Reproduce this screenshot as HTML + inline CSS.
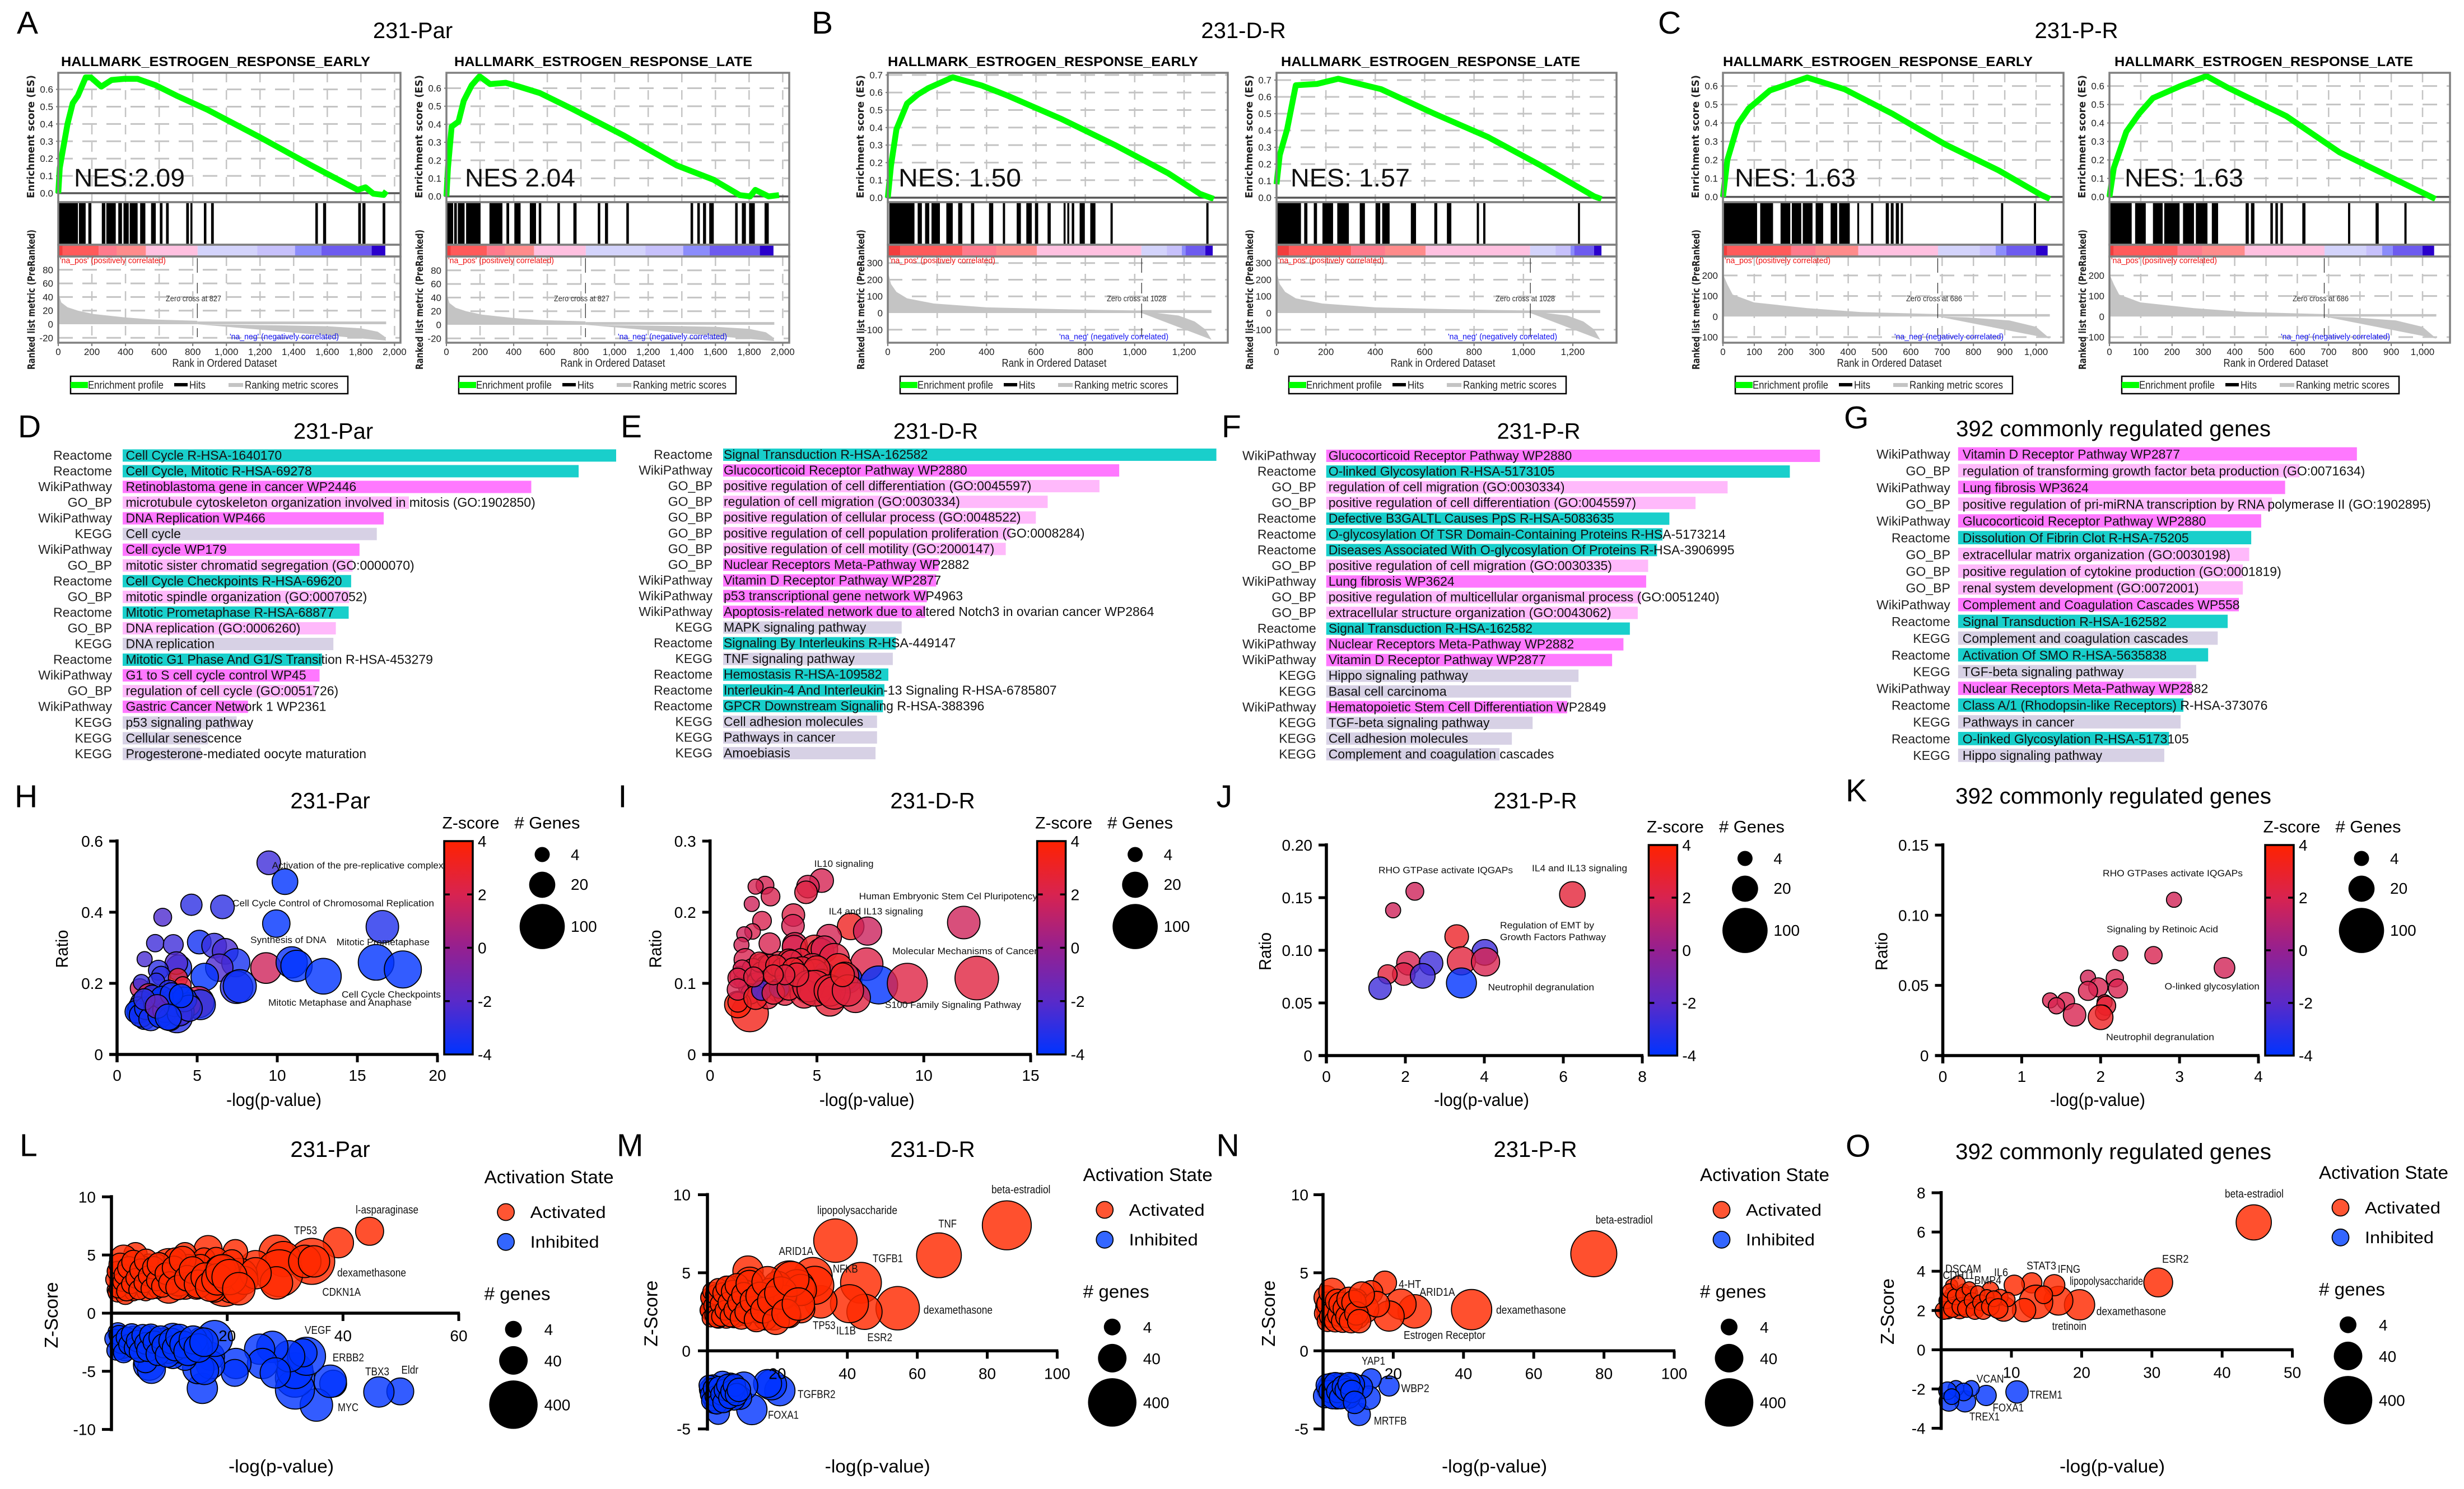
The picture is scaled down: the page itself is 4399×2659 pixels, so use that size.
<!DOCTYPE html>
<html lang="en">
<head>
<meta charset="utf-8">
<title>Estrogen response enrichment figure</title>
<style>
html,body{margin:0;padding:0;background:#fff;}
svg{display:block;font-family:"Liberation Sans",sans-serif;}
</style>
</head>
<body>
<svg id="figure" xmlns="http://www.w3.org/2000/svg" width="4399" height="2659" viewBox="0 0 4399 2659">
<defs>
<linearGradient id="zscore-gradient" x1="0" y1="0" x2="0" y2="1">
<stop offset="0" stop-color="#ff2200"/>
<stop offset="0.25" stop-color="#d82350"/>
<stop offset="0.5" stop-color="#952090"/>
<stop offset="0.75" stop-color="#5a2ac8"/>
<stop offset="1" stop-color="#0033ff"/>
</linearGradient>
</defs>
<rect width="4399" height="2659" fill="#fff"/>
</svg>
<script>
/* ---------- GSEA data ---------- */
const a1EsRank=[0,9,25,55,86,117,163,194,256,317,394,471,579,703,888,1196,1504,1781,1827,1874,1935,1951];
const a1EsScore=[0,.146,.236,.40,.52,.564,.669,.669,.616,.654,.661,.661,.624,.564,.482,.325,.161,.019,.034,-.003,-.01,.012];
const a2EsRank=[0,9,31,72,103,150,197,259,353,431,556,744,1056,1369,1587,1744,1806,1837,1916,1978];
const a2EsScore=[0,.157,.387,.415,.53,.616,.666,.623,.63,.609,.573,.487,.337,.172,.093,.007,0,.036,0,.007];
const b1EsRank=[0,13,35,78,121,164,263,380,487,703,919,1135,1264,1320];
const b1EsScore=[0,.184,.39,.537,.588,.625,.687,.64,.581,.449,.301,.14,.022,-.007];
const b2EsRank=[0,13,43,78,164,250,423,639,855,1070,1286,1316];
const b2EsScore=[.08,.254,.408,.669,.677,.708,.646,.5,.362,.192,.008,-.008];
const c1EsRank=[0,14,48,82,116,150,269,388,541,711,881,1017,1044];
const c1EsScore=[0,.199,.394,.478,.527,.576,.646,.583,.45,.283,.143,.01,-.011];
const c2EsRank=[0,14,54,95,139,224,310,378,565,735,905,1041];
const c2EsScore=[0,.157,.353,.451,.535,.598,.654,.591,.437,.241,.101,-.011];

const a1Hits=[[0,117],[123,163],[179,197],[259,280],[286,342],[357,379],[388,419],[425,472],[487,518],[552,580],[604,620],[641,657],[761,777],[786,798],[866,881],[909,925],[1529,1544],[1575,1593],[1784,1800],[1809,1827],[1929,1945]];
const a2Hits=[[0,40],[46,62],[68,108],[117,203],[256,333],[357,373],[404,441],[496,533],[549,564],[660,675],[755,774],[900,915],[943,961],[1070,1085],[1452,1467],[1492,1507],[1526,1544],[1563,1590],[1717,1732],[1757,1781],[1800,1834],[1892,1917]];
const b1Hits=[[6,108],[121,138],[151,168],[177,211],[237,263],[285,302],[337,350],[410,427],[466,475],[522,539],[561,583],[596,609],[647,660],[712,720],[727,735],[745,755],[777,798],[820,841],[902,911],[1290,1299]];
const b2Hits=[[4,99],[112,125],[151,164],[186,229],[246,293],[337,358],[401,420],[428,458],[544,565],[639,651],[690,708],[811,820],[837,846],[1221,1229]];
const c1Hits=[[3,109],[119,160],[184,215],[220,250],[255,286],[296,320],[344,365],[371,405],[429,435],[473,480],[520,530],[536,545],[552,562],[568,575],[888,895],[993,1000]];
const c2Hits=[[3,71],[82,116],[139,170],[175,224],[235,270],[276,313],[327,347],[435,445],[452,463],[514,522],[530,538],[546,554],[616,626],[762,769],[850,860],[942,949]];

const bandColors=["#f23d3d","#ff5a5a","#ff7a8c","#ff8b8b","#ffc0e0","#d3d3fb","#c6c0fb","#8b8cfb","#6d5bef","#2a00cc"];
const aBandEdges=[0,25,240,348,521,829,1183,1408,1565,1864,1945];
const bBandEdges=[0,50,302,440,604,1027,1130,1191,1206,1286,1316];
const cBandEdges=[0,14,218,296,432,687,820,871,905,1000,1037];

const aPosRank=[0,3,6,18,55,117,210,400,560,827];
const aPosMetric=[80,62,42,32,25,20,15,10,7,5];
const aNegRank=[827,1000,1300,1600,1800,1900,1940,1950];
const aNegMetric=[0,-.5,-1.5,-3,-6,-11,-18,-24];
const aPlateau=[4];
const bPosRank=[0,13,35,78,186,401,703,1028];
const bPosMetric=[250,174,127,88,57,34,23,15];
const bNegRank=[1028,1091,1178,1243,1286,1311];
const bNegMetric=[0,0,-15,-51,-98,-160];
const bPlateau=[18];
const cPosRank=[0,14,31,99,269,439,686];
const cPosMetric=[207,157,107,69,41,22,12];
const cNegRank=[686,779,915,1000,1044];
const cNegMetric=[0,-4,-19,-50,-107];
const cPlateau=[12];

const aRankTicks=[0,200,400,600,800,1000,1200,1400,1600,1800,2000];
const bRankTicks=[0,200,400,600,800,1000,1200];
const cRankTicks=[0,100,200,300,400,500,600,700,800,900,1000];
const aMetricTicks=[-20,0,20,40,60,80];
const bMetricTicks=[-100,0,100,200,300];
const cMetricTicks=[-100,0,100,200];
const es6Ticks=[0,.1,.2,.3,.4,.5,.6];
const es7Ticks=[0,.1,.2,.3,.4,.5,.6,.7];

/* ---------- enrichment bar data ---------- */
const dSources=["Reactome","Reactome","WikiPathway","GO_BP","WikiPathway","KEGG","WikiPathway","GO_BP","Reactome","GO_BP","Reactome","GO_BP","KEGG","Reactome","WikiPathway","GO_BP","WikiPathway","KEGG","KEGG","KEGG"];
const dTerms=["Cell Cycle R-HSA-1640170","Cell Cycle, Mitotic R-HSA-69278","Retinoblastoma gene in cancer WP2446","microtubule cytoskeleton organization involved in mitosis (GO:1902850)","DNA Replication WP466","Cell cycle","Cell cycle WP179","mitotic sister chromatid segregation (GO:0000070)","Cell Cycle Checkpoints R-HSA-69620","mitotic spindle organization (GO:0007052)","Mitotic Prometaphase R-HSA-68877","DNA replication (GO:0006260)","DNA replication","Mitotic G1 Phase And G1/S Transition R-HSA-453279","G1 to S cell cycle control WP45","regulation of cell cycle (GO:0051726)","Gastric Cancer Network 1 WP2361","p53 signaling pathway","Cellular senescence","Progesterone-mediated oocyte maturation"];
const dScores=[100,92.4,82.8,58.0,52.9,51.5,48.0,46.6,46.3,45.9,45.8,43.2,42.7,40.4,39.9,39.1,25.4,23.1,17.3,15.8];

const eSources=["Reactome","WikiPathway","GO_BP","GO_BP","GO_BP","GO_BP","GO_BP","GO_BP","WikiPathway","WikiPathway","WikiPathway","KEGG","Reactome","KEGG","Reactome","Reactome","Reactome","KEGG","KEGG","KEGG"];
const eFillSources=["Reactome","WikiPathway","GO_BP","GO_BP","GO_BP","GO_BP","GO_BP","WikiPathway","WikiPathway","WikiPathway","WikiPathway","KEGG","Reactome","KEGG","Reactome","Reactome","Reactome","KEGG","KEGG","KEGG"];
const eTerms=["Signal Transduction R-HSA-162582","Glucocorticoid Receptor Pathway WP2880","positive regulation of cell differentiation (GO:0045597)","regulation of cell migration (GO:0030334)","positive regulation of cellular process (GO:0048522)","positive regulation of cell population proliferation (GO:0008284)","positive regulation of cell motility (GO:2000147)","Nuclear Receptors Meta-Pathway WP2882","Vitamin D Receptor Pathway WP2877","p53 transcriptional gene network WP4963","Apoptosis-related network due to altered Notch3 in ovarian cancer WP2864","MAPK signaling pathway","Signaling By Interleukins R-HSA-449147","TNF signaling pathway","Hemostasis R-HSA-109582","Interleukin-4 And Interleukin-13 Signaling R-HSA-6785807","GPCR Downstream Signaling R-HSA-388396","Cell adhesion molecules","Pathways in cancer","Amoebiasis"];
const eScores=[100,80.3,76.3,65.8,63.4,58.3,57.3,43.7,43.2,41.3,41.0,36.2,35.0,34.4,33.5,32.7,32.4,31.2,31.2,30.9];

const fSources=["WikiPathway","Reactome","GO_BP","GO_BP","Reactome","Reactome","Reactome","GO_BP","WikiPathway","GO_BP","GO_BP","Reactome","WikiPathway","WikiPathway","KEGG","KEGG","WikiPathway","KEGG","KEGG","KEGG"];
const fTerms=["Glucocorticoid Receptor Pathway WP2880","O-linked Glycosylation R-HSA-5173105","regulation of cell migration (GO:0030334)","positive regulation of cell differentiation (GO:0045597)","Defective B3GALTL Causes PpS R-HSA-5083635","O-glycosylation Of TSR Domain-Containing Proteins R-HSA-5173214","Diseases Associated With O-glycosylation Of Proteins R-HSA-3906995","positive regulation of cell migration (GO:0030335)","Lung fibrosis WP3624","positive regulation of multicellular organismal process (GO:0051240)","extracellular structure organization (GO:0043062)","Signal Transduction R-HSA-162582","Nuclear Receptors Meta-Pathway WP2882","Vitamin D Receptor Pathway WP2877","Hippo signaling pathway","Basal cell carcinoma","Hematopoietic Stem Cell Differentiation WP2849","TGF-beta signaling pathway","Cell adhesion molecules","Complement and coagulation cascades"];
const fScores=[100,93.9,81.3,74.8,69.5,68.1,67.0,65.2,64.8,63.8,63.1,61.5,60.2,57.9,51.1,49.6,48.8,41.8,37.6,35.1];

const gSources=["WikiPathway","GO_BP","WikiPathway","GO_BP","WikiPathway","Reactome","GO_BP","GO_BP","GO_BP","WikiPathway","Reactome","KEGG","Reactome","KEGG","WikiPathway","Reactome","KEGG","Reactome","KEGG"];
const gTerms=["Vitamin D Receptor Pathway WP2877","regulation of transforming growth factor beta production (GO:0071634)","Lung fibrosis WP3624","positive regulation of pri-miRNA transcription by RNA polymerase II (GO:1902895)","Glucocorticoid Receptor Pathway WP2880","Dissolution Of Fibrin Clot R-HSA-75205","extracellular matrix organization (GO:0030198)","positive regulation of cytokine production (GO:0001819)","renal system development (GO:0072001)","Complement and Coagulation Cascades WP558","Signal Transduction R-HSA-162582","Complement and coagulation cascades","Activation Of SMO R-HSA-5635838","TGF-beta signaling pathway","Nuclear Receptors Meta-Pathway WP2882","Class A/1 (Rhodopsin-like Receptors) R-HSA-373076","Pathways in cancer","O-linked Glycosylation R-HSA-5173105","Hippo signaling pathway"];
const gScores=[100,85.6,82.0,78.7,76.0,73.5,73.0,71.4,71.4,70.4,67.6,65.1,62.7,59.7,58.6,56.5,55.8,52.9,51.7];

/* ---------- ratio bubble data ---------- */
const hLogP=[9.47,10.48,4.64,6.58,2.85,9.94,16.56,2.38,3.51,5.13,6.06,6.75,1.72,7.41,6.38,5.47,7.46,7.66,9.3,10.9,11.2,12.88,16.17,17.84,3.85,3.7,2.58,2.75,3.8,4.1,1.42,2.45,1.52,2.0,1.57,5.08,5.2,4.47,3.73,3.24,2.5,3.5,3,3.98,2.75,1.72,1.35,1.33,1.2,1.5,1.8,2.1,2.4,2.7,3,3.3,3.6,3.9,4.2,4.5,2.2,2.8,3.4,4,1.7,2.5,3.2];
const hRatio=[.539,.486,.421,.415,.386,.368,.359,.313,.309,.316,.306,.29,.268,.258,.244,.218,.189,.192,.243,.259,.249,.22,.259,.239,.244,.257,.237,.221,.215,.195,.186,.205,.202,.166,.144,.147,.14,.14,.105,.179,.147,.153,.134,.121,.108,.102,.121,.134,.12,.11,.13,.10,.14,.11,.125,.10,.14,.115,.155,.13,.165,.16,.17,.165,.155,.135,.105];
const hGenes=[15,19,11,15,6.5,23,38,6,9,15,17,19,4,25,23,23,38,40,32,34,34,50,50,56,19,13,9,8,8,5.5,8,5.5,5,15,15,34,30,15,34,11,15,13,15,21,11,13,15,9,13,15,13,15,15,17,17,15,15,17,17,20,11,13,13,15,11,15,20];
const hZ=[-2.6,-4,-3,-3,-2.3,-4,-3.3,-2.6,-2.6,-3.6,-2.8,-2.4,-2.4,-3.5,-2.3,-4,-3,-3.7,1.7,-3.8,-4,-4,-4,-4,-3.5,-2.2,-3,-3,2.8,2.5,1.7,-3,-2.8,2,-3,2,-3.5,1.8,-3.2,-3,-3.7,-3.5,-2,-2.5,-3.8,-3.6,-4,-3.4,-4,-3.6,-3.8,-3.5,-2.8,-3.8,-2,-3.6,-3.8,-2.6,-4,-3,-3.5,-4,-3.6,-4,-3,-1.5,-3.8];

const iLogP=[5.22,4.58,4.49,2.57,2.13,2.83,1.95,2.43,3.9,3.88,6.58,7.37,11.87,1.99,1.6,1.47,2.79,5.57,3.97,3.93,4.89,5.17,5.35,5.81,7.33,1.65,2.41,2.68,3.24,3.69,4.25,4.8,5.35,6,6.45,7.89,9.23,12.48,1.86,1.4,1.6,1.8,2.0,2.2,2.4,2.6,2.8,3.0,3.2,3.4,3.6,3.8,4.0,4.3,4.6,4.9,5.2,1.5,1.9,2.3,2.7,3.1,3.5,3.9,4.4,5.0,5.6,6.3,6.8,1.3,1.3,1.3,1.3,2.13,2.41,3.24,2.96,3.69,4.6,4.9,5.6,5.8,6.45,6.2,4.06,3.5,2.96,2.04];
const iRatio=[.2445,.236,.228,.238,.236,.222,.2116,.188,.196,.181,.18,.1735,.1855,.173,.169,.154,.156,.1655,.154,.151,.148,.1445,.148,.135,.127,.133,.128,.1235,.128,.1316,.135,.122,.1155,.122,.106,.0977,.1,.1074,.058,.11,.105,.095,.12,.10,.115,.095,.125,.105,.09,.12,.10,.13,.105,.12,.09,.115,.10,.12,.085,.13,.08,.125,.085,.12,.085,.12,.075,.11,.08,.0703,.0735,.1074,.0913,.08,.09,.093,.0865,.093,.096,.093,.09,.0865,.09,.112,.112,.112,.112,.109];
const iGenes=[15,13,13,6.5,4,7.5,4,7.5,13,13,21,25,38,4.4,4,4,11,17,17,15,25,21,21,30,38,13,9,15,15,15,9,25,9,25,25,60,70,90,56,9,9,9,11,11,11,11,13,13,13,13,15,15,17,17,21,21,25,7,9,9,13,11,13,13,25,21,30,25,30,21,9,9,11,15,9,9,13,15,34,50,34,38,34,15,15,9,9,9];
const iZ=[1.9,1.9,2.3,1.9,1.9,2,1.7,2,2.2,1.9,3.2,1.6,1.7,2,1.7,1.8,2,1.9,2,2,2.8,2.8,1.9,2.3,2.2,2,1.8,2.4,2.4,2.7,2.5,2.3,-4,3,-4,-4,2.3,2.4,3.4,2.2,2.6,2,2.4,2.8,2.3,2.6,2.4,2.8,2.5,2.7,2.6,2.3,2.8,2.6,2.4,2.7,2.5,2,2.4,2.6,2.5,2.7,2.4,2.9,2.5,2.8,2.6,2.9,2.4,3.8,3.3,2.2,2,3,-2.5,-4,2.5,2.6,2.4,2.6,2.7,2.6,2.4,3,2.6,2.4,2.6,2.3];

const jLogP=[6.23,2.24,1.69,3.3,4.01,3.42,4.03,2.08,2.65,1.96,2.44,1.55,1.36,3.42];
const jRatio=[.153,.156,.138,.113,.098,.09,.089,.0877,.0877,.0774,.0757,.0772,.064,.069];
const jGenes=[19,6.5,4,15,19,25,25,15,15,13,17,8,13,30];
const jZ=[2.6,1.7,1.7,3,-2.6,2.5,2,2,-2.6,2.2,-2.6,2.5,-2.6,-4];

const kLogP=[2.93,2.25,2.67,3.57,1.84,2.18,1.97,1.84,2.22,1.36,1.56,1.44,1.67,2.05,2.07,2.03,2];
const kRatio=[.111,.0728,.0715,.0625,.0555,.0551,.0486,.0461,.0478,.0393,.0388,.0355,.029,.038,.0355,.0306,.0273];
const kGenes=[4,4,6,10,4,6,8,8,8,4,6,5,13,4,8,4,17];
const kZ=[1.8,2,2,1.8,1.8,2,2,2,2,2,2,2,2,2.4,2.6,2.6,3.1];

/* ---------- upstream regulator data ---------- */
const lUpLogP=[44.6,39.2,34.6,28.5,24.9,29.7,29,28.5,33.4,35,21.4,16.7,12.7,4.15,2.1,2.1,9.9,22.2,19.5,20.8,17.4,15.4,12.7,9.9,13.3,16,18.1,20.8,6.5,7.9,5.2,3.8,1.8,1.1,1.4,2.1,2.8,4.5,5.9,7.2,8.6,10.6,9.3,7.9,6.5,5.5,4.5,3.1,1.4,1.1,11,15.4,18.8,22.9,24.9,11.6,14.7,17.8,1.1,.7,1.1,2.4,3.8,5.9,7.9,.6,.9,1.2,1.5,1.9,2.2,2.6,3,3.4,3.8,4.2,4.7,5.1,5.6,6,6.4,6.9,7.3,7.8,8.2,8.8,9.4,10.1,10.8,11.5,12.3,13.1,14,15,16.2,17.1,18.3,19.2,20.4,22];
const lUpZ=[7.04,6.06,4.45,5.22,4.04,4.65,3.43,2.6,4.45,4.45,5.27,5.47,5.06,5.06,4.65,2.8,4.04,3.2,2.6,2.4,3.4,2.8,2.4,2.2,4.04,4.65,4.65,4.45,3.63,3.43,2.8,2.6,2.41,2.41,2.61,2,2.2,2.41,2.41,2.61,2.82,3.02,3.63,4.24,4.24,4.04,3.63,3.43,3.43,3.02,4.65,4.04,3.63,2.82,3.43,2.82,2.2,2,3.63,2,1.8,1.59,1.8,1.8,2,2.9,3.6,2.1,4.2,2.7,3.3,1.9,3.9,2.5,4.4,3,2,3.7,2.6,4.5,3.2,2.1,3.9,2.8,4.2,2.3,3.4,2.6,3.9,2.2,4.6,3,3.7,2.5,3.1,2.3,2.9,3.6,3.1,2.1];
const lUpGenes=[37,52,320,94,60,100,350,70,70,60,21,37,17,17,37,17,100,100,350,100,37,37,37,60,17,14,17,17,17,14,17,14,8,4.5,4,8,8,8,8,11,14,17,14,8,8,8,8,8,4.5,4.5,14,17,60,37,60,60,17,21,8,4,8,8,4.5,4.5,4.5,6,7,6,14,7,9,8,14,7,17,8,8,14,8,17,9,10,14,9,17,12,12,14,17,20,30,25,30,37,40,50,60,80,100,70];
const lDownLogP=[49.9,46.2,38.3,35.4,37.8,31.7,31.7,31.7,33.7,33.1,30.7,27.8,25.6,26.1,28.3,21.5,21.3,15.7,17.1,17.1,15,16.1,17.8,15.4,6.5,6.9,5.9,12.7,10.6,12,14.7,10.6,8.6,6.5,5.2,3.8,2.4,1.4,1.8,1.1,2.4,4.5,7.9,9.9,13.3,1.8,.5,.9,1.3,1.7,2.1,2.6,3,3.5,4,4.4,4.9,5.4,5.9,6.3,6.8,7.4,8,8.5,9.1,9.7,10.4,11,11.7,12.4,13.2,14.1,15,16];
const lDownZ=[-6.73,-6.78,-6.06,-7.9,-5.86,-5.55,-6.57,-4.94,-3.71,-3.41,-3.71,-2.9,-3.1,-4.33,-5.14,-4.33,-5.14,-6.47,-3.71,-4.43,-4.73,-4.94,-2.18,-2.29,-4.43,-4.84,-4.12,-3.92,-3.71,-3.1,-2.9,-2.08,-2.29,-2.08,-2.29,-2.08,-2.29,-2.69,-2.08,-1.67,-3.1,-2.9,-2.9,-3.31,-3.51,-2.9,-2.2,-3.2,-1.9,-2.6,-3.4,-2.1,-2.7,-1.8,-3.0,-2.4,-3.3,-1.9,-2.6,-3.2,-1.9,-2.5,-3.5,-2.1,-2.8,-3.6,-2.4,-3,-2.1,-2.7,-3.3,-2.3,-3,-2.5];
const lDownGenes=[31,52,31,70,70,158,158,110,140,37,60,60,52,52,52,52,31,52,37,40,60,37,110,21,60,37,17,17,21,37,17,37,17,17,17,14,14,8,17,8,17,14,17,17,17,17,7,8,8,9,9,10,9,10,10,11,11,12,12,14,14,14,17,17,20,21,25,25,30,30,37,37,40,40];

const mUpLogP=[85.6,66.2,36.6,43.9,54.4,44.9,40.6,32.4,30.1,30.7,23.4,26.7,11.6,12.1,21.1,18.9,23.4,25.6,20,13.3,9.9,15.5,17.8,13.3,9.9,6.5,4.3,3.1,2,.9,2,7.6,5.4,3.1,.9,12.1,16.6,26.7,22.2,8.8,6.5,4.3,14.4,.9,.4,.7,1,1.3,1.6,1.9,2.3,2.7,3.1,3.6,4,4.5,5,5.5,6,6.6,7.2,7.8,8.4,9,9.7,10.4,11.2,12,13,14,15,16,17.2,18.4,19.6,21,22.5,24,26];
const mUpZ=[8.04,6.12,7.06,4.36,2.73,2.5,3.02,3.14,4.73,4.2,4.51,2.69,5.11,4.36,2.84,2.23,2.23,4.05,4.2,2.08,2.53,2.99,3.9,3.75,3.6,3.9,3.44,2.99,2.53,2.53,3.29,2.23,2.08,2.08,3.44,2.99,2.08,3.9,3.44,3.14,2.84,2.69,2.69,2.99,2.6,3.4,2.1,3.8,2.9,2.3,3.6,2.1,4,3,2.2,3.7,2.6,4.1,3.1,2.2,3.8,2.6,4.2,3.1,2.1,3.6,2.5,4.3,3.2,2,3.5,2.6,4.4,3.2,1.9,3.7,2.4,4.6,3];
const mUpGenes=[420,284,250,190,250,100,140,70,158,140,158,37,52,60,52,37,17,110,37,17,37,37,17,17,60,37,17,17,14,8,8,17,8,8,8,17,17,60,17,17,17,14,37,4.5,5,6,5,6,6,6,8,7,8,8,8,10,8,12,10,10,14,12,17,14,14,20,17,30,25,20,37,25,60,40,30,70,40,100,70];
const mDownLogP=[20.7,18.3,17.2,12.7,10.4,3.1,9.3,6.5,4.3,7.6,6,3.1,1.5,1.5,.9,2,7.6,4.8,.4,.8,1.2,1.7,2.2,2.7,3.3,3.9,4.5,5,5.7,6.3,7,7.7,8.3,9];
const mDownZ=[-2.55,-2.17,-2.09,-3.76,-2.25,-3.99,-3,-2.17,-2.02,-2.32,-2.78,-2.93,-2.17,-3.08,-2.47,-3.38,-3.08,-3.23,-2.2,-2.8,-3.2,-2.4,-2.9,-3.4,-2.3,-2.8,-3.3,-2.5,-2.2,-3,-2.6,-2.2,-2.8,-2.5];
const mDownGenes=[52,52,37,52,37,14,17,17,14,17,17,14,8,8,14,8,14,14,8,8,9,9,9,9,10,10,10,12,12,12,14,14,14,17];

const nUpLogP=[77.1,42.3,17.6,13.7,26.1,22.2,18.8,9.6,11.9,2.7,1.6,5,7.3,9.6,3.9,8.5,15.3,.5,.9,1.3,1.7,2.1,2.6,3,3.5,4,4.5,5,5.6,6.2,6.8,7.4,8,8.8,9.5,10.3,11];
const nUpZ=[6.22,2.64,4.36,3.75,2.53,2.99,2.23,3.29,2.69,2.84,2.23,2.38,2.23,2.23,2.69,2.69,2.99,2.4,3.4,1.9,3,2.2,3.8,2.5,1.9,3.2,2.3,3,1.9,2.7,2.2,3.3,1.9,3.1,2.4,1.9,3.6];
const nUpGenes=[320,180,17,17,80,52,52,11,37,80,17,37,17,25,11,17,25,10,20,10,20,12,30,14,12,17,14,17,14,17,14,20,17,20,17,17,25];
const nDownLogP=[10.3,18.8,13.7,13,6.2,2.7,10.8,5,8.5,1.6,7.3,3.9,.6,1.2,2,2.8,3.5,4.2,5,5.8,6.6,7.4,8.2,9];
const nDownZ=[-4.07,-2.25,-1.79,-3,-2.78,-2.32,-2.32,-2.17,-2.17,-2.47,-2.93,-3.08,-2.9,-2.2,-2.6,-3,-2.1,-2.6,-3,-2.3,-2.5,-2.1,-2.6,-3.3];
const nDownGenes=[14,9,9,17,37,37,17,17,17,17,17,9,17,14,14,14,14,14,14,14,14,14,14,14];

const oUpLogP=[44.5,30.9,19.7,16.7,16.1,12.9,10.4,13.5,11.8,8.9,14.6,7,1.5,3.2,4.3,1.5,.9,2.6,4.9,.9,8.4,9.5,6.6,3.2,.4,.8,1.2,1.6,2,2.4,2.8,3.2,3.6,4,4.4,4.8,5.2,5.6,6,6.5,7,7.5,8.1];
const oUpZ=[6.49,3.43,2.29,2.5,3.29,3.41,3.29,2.44,2.02,2.08,2.8,3.04,3.29,3.04,2.92,2.8,2.44,2.08,2.2,2.02,2.68,2.56,2.32,2.56,2,2.5,3,2.1,2.7,3.4,2.2,2.8,2.1,3.1,2.5,2,2.9,2.4,2,2.7,2.2,2.6,2.1];
const oUpGenes=[100,42,52,42,11,9,9,80,17,21,5,4,1,1,1,2,3,8,5,5,3,2,3,3,5,3,2,5,3,2,5,3,5,2,3,5,2,3,5,2,5,3,8];
const oDownLogP=[10.8,6.4,3.4,1.1,4.3,2.1,3.2,.9,1.5];
const oDownZ=[-2.15,-2.33,-2.63,-2.63,-1.97,-1.97,-2.15,-2.09,-2.39];
const oDownGenes=[14,9,11,8,3,3,5,5,3];

const ratioX20=[0,5,10,15,20], ratioX15=[0,5,10,15], ratioX8=[0,2,4,6,8], ratioX4=[0,1,2,3,4];
const hYTicks=[0,.2,.4,.6], iYTicks=[0,.1,.2,.3], jYTicks=[0,.05,.1,.15,.2], kYTicks=[0,.05,.1,.15];
const zScoreTicks=[4,2,0,-2,-4];
const ratioLegendGenes=[4,20,100];
const regLegendGenes=[4,40,400];
const lXTicks=[20,40,60], mXTicks=[20,40,60,80,100], oXTicks=[10,20,30,40,50];
const lYTicks=[10,5,0,-5,-10], mYTicks=[10,5,0,-5], oYTicks=[8,6,4,2,0,-2,-4];

/* ---------- helpers ---------- */
const NS='http://www.w3.org/2000/svg';
const root=document.getElementById('figure');
function make(tag,attrs,parent){
  const e=document.createElementNS(NS,tag);
  for(const k in attrs)e.setAttribute(k,attrs[k]);
  parent.appendChild(e);
  return e;
}
function group(parent,name){
  const g=make('g',{},parent);
  
  
  return g;
}
function mark(parent,tag,attrs,name){
  const e=make(tag,attrs,parent);
  
  
  return e;
}
function label(parent,name,s,x,y,size,o){
  o=o||{};
  const a={x:x,y:y,'font-size':size,'text-anchor':o.anchor||'start',fill:o.fill||'#000'};
  if(o.width){a.textLength=o.width;a.lengthAdjust='spacingAndGlyphs';}
  if(o.weight)a['font-weight']=o.weight;
  if(o.family)a['font-family']=o.family;
  if(o.rot)a.transform='rotate(-90 '+x+' '+y+')';
  const t=make('text',a,parent);
  t.textContent=s;
  
  
  return t;
}
const linear=(d0,d1,r0,r1)=>v=>r0+(v-d0)*(r1-r0)/(d1-d0);
const pts=(xs,ys,fx,fy)=>xs.map((v,i)=>fx(v)+','+fy(ys[i])).join(' ');
const commas=v=>String(v).replace(/\B(?=(\d{3})+$)/g,',');

/* ---------- GSEA panels ---------- */
function drawGsea(c){
  const g=group(root,c.name);
  const L=c.left,R=c.right;
  const fx=linear(0,1,L,L+c.pxPerRank);
  const fes=linear(0,.1,c.esZero,c.esZero-c.esStep);
  const fm=linear(0,1,c.mZero,c.mZero-c.mStep);
  const T=130,E=361,H=437,B=458,Z=612;
  label(g,c.name+'-title',c.title,c.tx,118,24,{weight:'bold',width:c.tw});
  mark(g,'rect',{x:L,y:T,width:R-L,height:Z-T,fill:'#fff'},c.name+'-plot-area');
  c.esTicks.forEach(v=>{
    if(v!==0)mark(g,'line',{x1:L,x2:R,y1:fes(v),y2:fes(v),stroke:'#c4c4c4','stroke-width':3,'stroke-dasharray':'26 17'},c.name+'-es-gridline');
    label(g,c.name+'-es-tick',v.toFixed(1),L-9,fes(v)+6,17,{anchor:'end',fill:'#222'});
    mark(g,'line',{x1:L-4,x2:L,y1:fes(v),y2:fes(v),stroke:'#777','stroke-width':2},c.name+'-es-tick-mark');
  });
  c.xTicks.forEach(v=>{
    mark(g,'line',{x1:fx(v),x2:fx(v),y1:T,y2:E,stroke:'#c4c4c4','stroke-width':2.5,'stroke-dasharray':'17 14'},c.name+'-es-vgrid');
    mark(g,'line',{x1:fx(v),x2:fx(v),y1:B,y2:Z,stroke:'#c4c4c4','stroke-width':2.5,'stroke-dasharray':'17 14'},c.name+'-metric-vgrid');
    mark(g,'line',{x1:fx(v),x2:fx(v),y1:Z,y2:Z+6,stroke:'#777','stroke-width':2},c.name+'-x-tick-mark');
    label(g,c.name+'-x-tick',commas(v),fx(v),634,17,{anchor:'middle',fill:'#222'});
  });
  c.mTicks.forEach(v=>{
    if(v!==0)mark(g,'line',{x1:L,x2:R,y1:fm(v),y2:fm(v),stroke:'#c4c4c4','stroke-width':3,'stroke-dasharray':'26 17'},c.name+'-metric-gridline');
    label(g,c.name+'-metric-tick',String(v),L-9,fm(v)+6,17,{anchor:'end',fill:'#222'});
  });
  /* metric area */
  const endRank=c.negRank[c.negRank.length-1], crossRank=c.negRank[0];
  mark(g,'polygon',{points:pts(c.posRank,c.posMetric,fx,fm)+' '+fx(crossRank)+','+fm(0)+' '+fx(0)+','+fm(0),fill:'#c4c4c4'},c.name+'-metric-positive-area');
  mark(g,'polygon',{points:fx(crossRank)+','+fm(0)+' '+pts(c.negRank,c.negMetric,fx,fm),fill:'#c4c4c4'},c.name+'-metric-negative-area');
  mark(g,'rect',{x:fx(crossRank),y:fm(c.plateau[0]),width:fx(endRank)-fx(crossRank),height:fm(0)-fm(c.plateau[0]),fill:'#c4c4c4'},c.name+'-metric-plateau');
  [[461,487],[505,524],[542,568],[586,602]].forEach(s=>{
    mark(g,'line',{x1:fx(crossRank),x2:fx(crossRank),y1:s[0],y2:s[1],stroke:'#222','stroke-width':1.2},c.name+'-zero-cross-line');
  });
  /* hits */
  c.hits.forEach(h=>{
    mark(g,'rect',{x:fx(h[0]),y:E+1,width:Math.max(fx(h[1])-fx(h[0]),2),height:H-E-2,fill:'#000'},c.name+'-hit');
  });
  /* rank colour band */
  c.bandEdges.slice(0,-1).forEach((e,i)=>{
    mark(g,'rect',{x:fx(e),y:H,width:fx(c.bandEdges[i+1])-fx(e),height:B-H,fill:bandColors[i]},c.name+'-rank-band-segment');
  });
  /* ES curve */
  mark(g,'line',{x1:L,x2:R,y1:c.esZero,y2:c.esZero,stroke:'#555','stroke-width':3.5},c.name+'-es-zero-line');
  mark(g,'polyline',{points:pts(c.esRank,c.esScore,fx,fes),fill:'none',stroke:'#00ff00','stroke-width':10.5,'stroke-linejoin':'round'},c.name+'-enrichment-curve');
  /* frames */
  [[T,E],[E,H],[H,B],[B,Z]].forEach(r=>{
    mark(g,'rect',{x:L,y:r[0],width:R-L,height:r[1]-r[0],fill:'none',stroke:'#808080','stroke-width':3.5},c.name+'-frame');
  });
  label(g,c.name+'-nes-label',c.nes,c.nesX,333,45,{width:c.nesW,fill:'#111'});
  label(g,c.name+'-pos-label',"'na_pos' (positively correlated)",L+3,470,15,{width:189,fill:'#f01010'});
  label(g,c.name+'-neg-label',"'na_neg' (negatively correlated)",L+306,606,15,{width:195,fill:'#1010f0'});
  label(g,c.name+'-zero-cross-label',c.zeroText,L+c.zeroX,538,15,{width:c.zeroW,fill:'#333'});
  label(g,c.name+'-es-axis-title','Enrichment score (ES)',L-43,354,18,{rot:true,weight:'bold',width:220,family:'"DejaVu Sans",sans-serif',fill:'#222'});
  label(g,c.name+'-metric-axis-title','Ranked list metric (PreRanked)',L-42,660,18,{rot:true,weight:'bold',width:250,family:'"DejaVu Sans",sans-serif',fill:'#222'});
  label(g,c.name+'-x-axis-title','Rank in Ordered Dataset',L+297,655,20,{anchor:'middle',width:187,fill:'#222'});
  /* legend */
  const X=L+22,Y=672;
  mark(g,'rect',{x:X,y:Y,width:495,height:31,fill:'#fff',stroke:'#000','stroke-width':2.5},c.name+'-legend-box');
  mark(g,'rect',{x:X,y:Y+10,width:31,height:11,fill:'#00ff00'},c.name+'-legend-profile-swatch');
  label(g,c.name+'-legend-profile','Enrichment profile',X+31,Y+22,19,{width:135,fill:'#222'});
  mark(g,'rect',{x:X+185,y:Y+12,width:24,height:6,fill:'#000'},c.name+'-legend-hits-swatch');
  label(g,c.name+'-legend-hits','Hits',X+212,Y+22,19,{width:29,fill:'#222'});
  mark(g,'rect',{x:X+282,y:Y+12,width:26,height:7,fill:'#c4c4c4'},c.name+'-legend-metric-swatch');
  label(g,c.name+'-legend-metric','Ranking metric scores',X+311,Y+22,19,{width:167,fill:'#222'});
}
const aStyle={pxPerRank:.3002,xTicks:aRankTicks,mTicks:aMetricTicks,mStep:1.215,posRank:aPosRank,posMetric:aPosMetric,negRank:aNegRank,negMetric:aNegMetric,plateau:aPlateau,bandEdges:aBandEdges,esTicks:es6Ticks,zeroText:'Zero cross at 827',zeroW:99,zeroX:192};
const bStyle={pxPerRank:.4408,xTicks:bRankTicks,mTicks:bMetricTicks,mStep:.2977,posRank:bPosRank,posMetric:bPosMetric,negRank:bNegRank,negMetric:bNegMetric,plateau:bPlateau,bandEdges:bBandEdges,esTicks:es7Ticks,zeroText:'Zero cross at 1028',zeroW:106,zeroX:391};
const cStyle={pxPerRank:.559,xTicks:cRankTicks,mTicks:cMetricTicks,mStep:.367,posRank:cPosRank,posMetric:cPosMetric,negRank:cNegRank,negMetric:cNegMetric,plateau:cPlateau,bandEdges:cBandEdges,esTicks:es6Ticks,zeroText:'Zero cross at 686',zeroW:100,zeroX:327};
drawGsea(Object.assign({},aStyle,{name:'panel-a-early',title:'HALLMARK_ESTROGEN_RESPONSE_EARLY',tx:109,tw:552,left:104,right:715,esZero:345,esStep:30.9,mZero:579,esRank:a1EsRank,esScore:a1EsScore,hits:a1Hits,nes:'NES:2.09',nesX:132,nesW:198}));
drawGsea(Object.assign({},aStyle,{name:'panel-a-late',title:'HALLMARK_ESTROGEN_RESPONSE_LATE',tx:811,tw:532,left:797,right:1409,esZero:350.7,esStep:32.2,mZero:580,esRank:a2EsRank,esScore:a2EsScore,hits:a2Hits,nes:'NES 2.04',nesX:830,nesW:197}));
drawGsea(Object.assign({},bStyle,{name:'panel-b-early',title:'HALLMARK_ESTROGEN_RESPONSE_EARLY',tx:1585,tw:554,left:1585,right:2192,esZero:353,esStep:31.3,mZero:559,esRank:b1EsRank,esScore:b1EsScore,hits:b1Hits,nes:'NES: 1.50',nesX:1604,nesW:219}));
drawGsea(Object.assign({},bStyle,{name:'panel-b-late',title:'HALLMARK_ESTROGEN_RESPONSE_LATE',tx:2287,tw:534,left:2279,right:2886,esZero:353,esStep:30,mZero:559,esRank:b2EsRank,esScore:b2EsScore,hits:b2Hits,nes:'NES: 1.57',nesX:2304,nesW:213}));
drawGsea(Object.assign({},cStyle,{name:'panel-c-early',title:'HALLMARK_ESTROGEN_RESPONSE_EARLY',tx:3076,tw:553,left:3076,right:3684,esZero:351.6,esStep:33,mZero:565.3,esRank:c1EsRank,esScore:c1EsScore,hits:c1Hits,nes:'NES: 1.63',nesX:3097,nesW:216}));
drawGsea(Object.assign({},cStyle,{name:'panel-c-late',title:'HALLMARK_ESTROGEN_RESPONSE_LATE',tx:3775,tw:533,left:3766,right:4374,esZero:351.6,esStep:33,mZero:565.3,esRank:c2EsRank,esScore:c2EsScore,hits:c2Hits,nes:'NES: 1.63',nesX:3793,nesW:212}));

/* ---------- bars ---------- */
const sourceFill={Reactome:'#19cfcb',WikiPathway:'#ff78ff',GO_BP:'#ffb9fb',KEGG:'#d7d1e5'};
function drawBars(c){
  const g=group(root,c.name);
  const fx=linear(0,100,c.left,c.left+c.maxW);
  c.sources.forEach((s,i)=>{
    const y=c.top+i*c.pitch;
    const fillKey=(c.fills||c.sources)[i];
    mark(g,'rect',{x:c.left,y:y,width:fx(c.scores[i])-c.left,height:c.barH,fill:sourceFill[fillKey]},c.name+'-bar');
    label(g,c.name+'-source-label',s,c.left-c.gap,y+c.barH-3.5,c.font,{anchor:'end',fill:'#222'});
    label(g,c.name+'-term-label',c.terms[i],c.left+c.pad,y+c.barH-3.5,c.font,{fill:'#111'});
  });
}
drawBars({name:'panel-d',left:219,maxW:881,top:802.4,pitch:28.05,barH:22,gap:19,pad:5.5,font:23,sources:dSources,terms:dTerms,scores:dScores});
drawBars({name:'panel-e',left:1291,maxW:880.6,top:801,pitch:28.05,barH:22,gap:19,pad:1,font:23,sources:eSources,fills:eFillSources,terms:eTerms,scores:eScores});
drawBars({name:'panel-f',left:2367.7,maxW:881.5,top:803,pitch:28.05,barH:22,gap:18,pad:4,font:23,sources:fSources,terms:fTerms,scores:fScores});
drawBars({name:'panel-g',left:3495.8,maxW:712,top:798.7,pitch:29.9,barH:23.8,gap:14,pad:8,font:23,sources:gSources,terms:gTerms,scores:gScores});

/* ---------- ratio bubbles ---------- */
const zStops=[[0,51,255],[90,42,200],[149,32,144],[216,35,80],[255,34,0]];
const zFill=z=>{
  const p=Math.max(0,Math.min(3.999,(z+4)/2));
  const i=Math.floor(p),f=p-i;
  const mix=k=>Math.round(zStops[i][k]+(zStops[i+1][k]-zStops[i][k])*f);
  return 'rgb('+mix(0)+','+mix(1)+','+mix(2)+')';
};
const ratioRadius=n=>13.5*Math.pow(n/4,.34);
function drawRatio(c){
  const g=group(root,c.name);
  const fx=linear(0,c.xMax,c.x0,c.x1), fy=linear(0,c.yMax,c.yBot,c.yTop);
  c.logP.forEach((v,i)=>{
    mark(g,'circle',{cx:fx(v),cy:fy(c.ratio[i]),r:ratioRadius(c.genes[i]),fill:zFill(c.z[i]),'fill-opacity':.8,stroke:'#000','stroke-width':1.8},c.name+'-bubble');
  });
  mark(g,'line',{x1:c.x0,x2:c.x0,y1:c.yTop-3,y2:c.yBot+14,stroke:'#000','stroke-width':5.5},c.name+'-y-axis');
  mark(g,'line',{x1:c.x0-14,x2:c.x1+2,y1:c.yBot,y2:c.yBot,stroke:'#000','stroke-width':5.5},c.name+'-x-axis');
  c.xTicks.forEach(v=>{
    mark(g,'line',{x1:fx(v),x2:fx(v),y1:c.yBot,y2:c.yBot+14,stroke:'#000','stroke-width':5},c.name+'-x-tick-mark');
    label(g,c.name+'-x-tick',String(v),fx(v),c.yBot+47,28,{anchor:'middle'});
  });
  c.yTicks.forEach(v=>{
    mark(g,'line',{x1:c.x0-14,x2:c.x0,y1:fy(v),y2:fy(v),stroke:'#000','stroke-width':5},c.name+'-y-tick-mark');
    label(g,c.name+'-y-tick',c.yFmt(v),c.x0-25,fy(v)+10,28,{anchor:'end'});
  });
  label(g,c.name+'-y-axis-title','Ratio',c.x0-c.ratioOff,(c.yTop+c.yBot)/2+2,31,{rot:true,anchor:'middle',width:68});
  label(g,c.name+'-x-axis-title','-log(p-value)',c.xlabX,1975,32,{anchor:'middle',width:170});
  label(g,c.name+'-title',c.title,c.tX,c.tY,40,{anchor:c.tW?'start':'middle',width:c.tW});
  /* colour scale */
  const cb=c.cbX,cw=51;
  const fz=linear(-4,4,c.yBot,c.yTop);
  mark(g,'rect',{x:cb,y:c.yTop,width:cw,height:c.yBot-c.yTop,fill:'url(#zscore-gradient)',stroke:'#000','stroke-width':3.5},c.name+'-color-scale');
  zScoreTicks.forEach(v=>{
    if(v!==4&&v!==-4){
      mark(g,'line',{x1:cb,x2:cb+10,y1:fz(v),y2:fz(v),stroke:'#000','stroke-width':3.5},c.name+'-color-tick-left');
      mark(g,'line',{x1:cb+cw-10,x2:cb+cw,y1:fz(v),y2:fz(v),stroke:'#000','stroke-width':3.5},c.name+'-color-tick-right');
    }
    label(g,c.name+'-color-tick-label',String(v),cb+60,fz(v)+10,28,{});
  });
  const d=c.legendDy;
  label(g,c.name+'-color-scale-title','Z-score',cb-3.5,1479.6+d,30,{width:102});
  label(g,c.name+'-size-legend-title','# Genes',cb+125.5,1479.6+d,30,{width:117});
  const ys=[1526,1580,1654.6], tys=[1536,1589,1664];
  ratioLegendGenes.forEach((n,i)=>{
    mark(g,'circle',{cx:cb+c.legX,cy:ys[i]+d,r:ratioRadius(n),fill:'#000'},c.name+'-size-legend-bubble');
    label(g,c.name+'-size-legend-label',String(n),cb+c.legX+51,tys[i]+d,28,{});
  });
}
function note(parent,name,s,x0,x1,y,size){
  label(parent,name,s,x0,y,size||17,{width:x1-x0,fill:'#111'});
}
drawRatio({name:'panel-h',title:'231-Par',tX:589.5,tY:1443.5,x0:209,x1:781,yTop:1502,yBot:1883,xMax:20,yMax:.6,xTicks:ratioX20,yTicks:hYTicks,yFmt:v=>v===0?'0':v.toFixed(1),ratioOff:88,xlabX:489,cbX:793,legX:175,legendDy:0,logP:hLogP,ratio:hRatio,genes:hGenes,z:hZ});
drawRatio({name:'panel-i',title:'231-D-R',tX:1665,tY:1443.5,x0:1267.7,x1:1840,yTop:1502,yBot:1883,xMax:15,yMax:.3,xTicks:ratioX15,yTicks:iYTicks,yFmt:v=>v===0?'0':v.toFixed(1),ratioOff:87,xlabX:1547.7,cbX:1851.6,legX:175,legendDy:0,logP:iLogP,ratio:iRatio,genes:iGenes,z:iZ});
drawRatio({name:'panel-j',title:'231-P-R',tX:2741,tY:1443.5,x0:2368,x1:2932,yTop:1509,yBot:1885,xMax:8,yMax:.2,xTicks:ratioX8,yTicks:jYTicks,yFmt:v=>v===0?'0':v.toFixed(2),ratioOff:99,xlabX:2645,cbX:2943.4,legX:172,legendDy:7,logP:jLogP,ratio:jRatio,genes:jGenes,z:jZ});
drawRatio({name:'panel-k',title:'392 commonly regulated genes',tX:3491,tY:1435,tW:564,x0:3468.5,x1:4032,yTop:1509,yBot:1885,xMax:4,yMax:.15,xTicks:ratioX4,yTicks:kYTicks,yFmt:v=>v===0?'0':v.toFixed(2),ratioOff:99,xlabX:3745,cbX:4044,legX:172,legendDy:7,logP:kLogP,ratio:kRatio,genes:kGenes,z:kZ});

const annotations=group(root,'pathway-annotations');
note(annotations,'annotation-prereplicative','Activation of the pre-replicative complex',485.6,791.6,1551);
note(annotations,'annotation-chromosomal-replication','Cell Cycle Control of Chromosomal Replication',415,775,1618.5);
note(annotations,'annotation-synthesis-dna','Synthesis of DNA',447,582.5,1684);
note(annotations,'annotation-prometaphase','Mitotic Prometaphase',600.7,767,1688);
note(annotations,'annotation-checkpoints','Cell Cycle Checkpoints',610,787,1781.6);
note(annotations,'annotation-metaphase','Mitotic Metaphase and Anaphase',479,735,1796);
note(annotations,'annotation-il10','IL10 signaling',1453.7,1559.6,1548);
note(annotations,'annotation-pluripotency','Human Embryonic Stem Cel Pluripotency',1533.7,1852,1606);
note(annotations,'annotation-il4-il13','IL4 and IL13 signaling',1479.6,1648,1633);
note(annotations,'annotation-cancer-mechanisms','Molecular Mechanisms of Cancer',1593,1852,1704);
note(annotations,'annotation-s100','S100 Family Signaling Pathway',1580,1823,1800);
note(annotations,'annotation-rho-j','RHO GTPase activate IQGAPs',2461,2701,1559.5);
note(annotations,'annotation-il4-il13-j','IL4 and IL13 signaling',2735,2905,1556);
note(annotations,'annotation-emt-1','Regulation of EMT by',2678,2846,1658);
note(annotations,'annotation-emt-2','Growth Factors Pathway',2678,2867,1679);
note(annotations,'annotation-neutrophil-j','Neutrophil degranulation',2656.5,2846,1768.5);
note(annotations,'annotation-rho-k','RHO GTPases activate IQGAPs',3754,4004,1565);
note(annotations,'annotation-retinoic','Signaling by Retinoic Acid',3761,3960,1665);
note(annotations,'annotation-glycosylation','O-linked glycosylation',3864.5,4034,1767);
note(annotations,'annotation-neutrophil-k','Neutrophil degranulation',3760,3953,1857.5);

/* ---------- regulator bubbles ---------- */
const regRadius=n=>15*Math.pow(n/4,.23);
function drawRegulators(c){
  const g=group(root,c.name);
  const fx=linear(0,c.xMax,c.x0,c.x1), fy=linear(c.yMin,c.yMax,c.yBot,c.yTop);
  c.upLogP.forEach((v,i)=>{
    mark(g,'circle',{cx:fx(v),cy:fy(c.upZ[i]),r:regRadius(c.upGenes[i]),fill:'#ff2a00','fill-opacity':.82,stroke:'#000','stroke-width':1.8},c.name+'-activated-bubble');
  });
  c.downLogP.forEach((v,i)=>{
    mark(g,'circle',{cx:fx(v),cy:fy(c.downZ[i]),r:regRadius(c.downGenes[i]),fill:'#0033ff','fill-opacity':.8,stroke:'#000','stroke-width':1.8},c.name+'-inhibited-bubble');
  });
  mark(g,'line',{x1:c.x0,x2:c.x0,y1:c.yTop-3,y2:c.yBot+3,stroke:'#000','stroke-width':5.5},c.name+'-y-axis');
  mark(g,'line',{x1:c.x0,x2:c.x1+2,y1:fy(0),y2:fy(0),stroke:'#000','stroke-width':5.5},c.name+'-x-axis');
  c.xTicks.forEach(v=>{
    mark(g,'line',{x1:fx(v),x2:fx(v),y1:fy(0),y2:fy(0)+14,stroke:'#000','stroke-width':5},c.name+'-x-tick-mark');
    label(g,c.name+'-x-tick',String(v),fx(v),fy(0)+50,28,{anchor:'middle'});
  });
  c.yTicks.forEach(v=>{
    mark(g,'line',{x1:c.x0-17,x2:c.x0,y1:fy(v),y2:fy(v),stroke:'#000','stroke-width':5},c.name+'-y-tick-mark');
    label(g,c.name+'-y-tick',String(v),c.x0-c.yLabOff,fy(v)+10,28,{anchor:'end'});
  });
  label(g,c.name+'-y-axis-title','Z-Score',c.zX,c.zY,33,{rot:true,anchor:'middle',width:118});
  label(g,c.name+'-x-axis-title','-log(p-value)',c.xlabX,2629.5,32,{anchor:'middle',width:188});
  label(g,c.name+'-title',c.title,c.tX,c.tY,40,{anchor:c.tW?'start':'middle',width:c.tW});
  const Lx=c.lgX,d=c.lgDy;
  label(g,c.name+'-legend-state-title','Activation State',Lx,2109+d,32,{width:231});
  mark(g,'circle',{cx:Lx+38.5,cy:2160.5+d,r:15,fill:'#ff5533',stroke:'#000','stroke-width':1.8},c.name+'-legend-activated-dot');
  label(g,c.name+'-legend-activated','Activated',Lx+82,2171+d,30,{width:135});
  mark(g,'circle',{cx:Lx+38.5,cy:2213.8+d,r:15,fill:'#3366ff',stroke:'#000','stroke-width':1.8},c.name+'-legend-inhibited-dot');
  label(g,c.name+'-legend-inhibited','Inhibited',Lx+82,2224+d,30,{width:123});
  label(g,c.name+'-legend-genes-title','# genes',Lx,2317.7+d,32,{width:118});
  const ys=[2369.7,2425.4,2504.4], tys=[2380,2436,2514.6];
  regLegendGenes.forEach((n,i)=>{
    mark(g,'circle',{cx:Lx+52,cy:ys[i]+d,r:regRadius(n),fill:'#000'},c.name+'-size-legend-bubble');
    label(g,c.name+'-size-legend-label',String(n),Lx+107,tys[i]+d,28,{});
  });
}
drawRegulators({name:'panel-l',title:'231-Par',tX:589.5,tY:2066,x0:199,x1:819,xMax:60,yMin:-10,yMax:10,yTop:2137.3,yBot:2552.6,xTicks:lXTicks,yTicks:lYTicks,yLabOff:28,zX:103,zY:2348.5,xlabX:502,lgX:864.6,lgDy:4,upLogP:lUpLogP,upZ:lUpZ,upGenes:lUpGenes,downLogP:lDownLogP,downZ:lDownZ,downGenes:lDownGenes});
drawRegulators({name:'panel-m',title:'231-D-R',tX:1665,tY:2066,x0:1263,x1:1887.4,xMax:100,yMin:-5,yMax:10,yTop:2133.5,yBot:2551.7,xTicks:mXTicks,yTicks:mYTicks,yLabOff:30,zX:1173.7,zY:2345.6,xlabX:1566.7,lgX:1933.7,lgDy:0,upLogP:mUpLogP,upZ:mUpZ,upGenes:mUpGenes,downLogP:mDownLogP,downZ:mDownZ,downGenes:mDownGenes});
drawRegulators({name:'panel-n',title:'231-P-R',tX:2741,tY:2066,x0:2362,x1:2989,xMax:100,yMin:-5,yMax:10,yTop:2133.5,yBot:2551.7,xTicks:mXTicks,yTicks:mYTicks,yLabOff:26,zX:2276,zY:2345.6,xlabX:2668,lgX:3035,lgDy:0,upLogP:nUpLogP,upZ:nUpZ,upGenes:nUpGenes,downLogP:nDownLogP,downZ:nDownZ,downGenes:nDownGenes});
drawRegulators({name:'panel-o',title:'392 commonly regulated genes',tX:3491,tY:2070,tW:564,x0:3465.6,x1:4092.6,xMax:50,yMin:-4,yMax:8,yTop:2130,yBot:2550.5,xTicks:oXTicks,yTicks:oYTicks,yLabOff:28,zX:3381,zY:2342,xlabX:3771,lgX:4140,lgDy:-4,upLogP:oUpLogP,upZ:oUpZ,upGenes:oUpGenes,downLogP:oDownLogP,downZ:oDownZ,downGenes:oDownGenes});

const regNotes=group(root,'regulator-annotations');
note(regNotes,'label-l-asparaginase','l-asparaginase',635,747,2167,20);
note(regNotes,'label-l-tp53','TP53',525,566,2204,20);
note(regNotes,'label-l-dexamethasone','dexamethasone',602,725,2279.7,20);
note(regNotes,'label-l-cdkn1a','CDKN1A',575.4,644,2314,20);
note(regNotes,'label-l-vegf','VEGF',544,591,2382,20);
note(regNotes,'label-l-erbb2','ERBB2',593.7,650,2431,20);
note(regNotes,'label-l-tbx3','TBX3',652,695,2456,20);
note(regNotes,'label-l-eldr','Eldr',716.5,747,2453,20);
note(regNotes,'label-l-myc','MYC',603,640,2520,20);
note(regNotes,'label-m-estradiol','beta-estradiol',1770,1875.4,2131,20);
note(regNotes,'label-m-lps','lipopolysaccharide',1459,1602,2168,20);
note(regNotes,'label-m-tnf','TNF',1675.4,1708,2192,20);
note(regNotes,'label-m-arid1a','ARID1A',1390.5,1452,2241,20);
note(regNotes,'label-m-tgfb1','TGFB1',1558,1612,2254,20);
note(regNotes,'label-m-nfkb','NFKB',1486.7,1531.6,2272.5,20);
note(regNotes,'label-m-dexamethasone','dexamethasone',1648.8,1772,2346,20);
note(regNotes,'label-m-tp53','TP53',1451,1491.6,2373.5,20);
note(regNotes,'label-m-il1b','IL1B',1493,1528,2383,20);
note(regNotes,'label-m-esr2','ESR2',1548.4,1593,2395,20);
note(regNotes,'label-m-tgfbr2','TGFBR2',1424,1491.6,2496.4,20);
note(regNotes,'label-m-foxa1','FOXA1',1371,1426,2533.6,20);
note(regNotes,'label-n-estradiol','beta-estradiol',2848.7,2950.6,2185,20);
note(regNotes,'label-n-4ht','4-HT',2497,2537,2300,20);
note(regNotes,'label-n-arid1a','ARID1A',2534.5,2597.6,2314,20);
note(regNotes,'label-n-dexamethasone','dexamethasone',2671,2795.6,2346,20);
note(regNotes,'label-n-estrogen-receptor','Estrogen Receptor',2506,2652,2391,20);
note(regNotes,'label-n-yap1','YAP1',2431,2473,2437,20);
note(regNotes,'label-n-wbp2','WBP2',2501.5,2551.7,2486,20);
note(regNotes,'label-n-mrtfb','MRTFB',2452.7,2511.5,2544,20);
note(regNotes,'label-o-estradiol','beta-estradiol',3972,4077,2138.6,20);
note(regNotes,'label-o-esr2','ESR2',3860,3907.5,2254.8,20);
note(regNotes,'label-o-stat3','STAT3',3618,3671,2267,20);
note(regNotes,'label-o-ifng','IFNG',3673.7,3714,2273,20);
note(regNotes,'label-o-dscam','DSCAM',3473,3537,2272.5,20);
note(regNotes,'label-o-cdh11','CDH11',3468.5,3524.5,2284,20);
note(regNotes,'label-o-il6','IL6',3560,3585,2279,20);
note(regNotes,'label-o-bmp4','BMP4',3524.5,3573,2293,20);
note(regNotes,'label-o-lps','lipopolysaccharide',3695,3826,2294.5,20);
note(regNotes,'label-o-dexamethasone','dexamethasone',3742.6,3867,2348.5,20);
note(regNotes,'label-o-tretinoin','tretinoin',3663.6,3725,2375,20);
note(regNotes,'label-o-vcan','VCAN',3528.8,3577.5,2469,20);
note(regNotes,'label-o-trem1','TREM1',3623.4,3682,2497.7,20);
note(regNotes,'label-o-foxa1','FOXA1',3557.5,3613,2520.5,20);
note(regNotes,'label-o-trex1','TREX1',3516,3570,2536.5,20);

/* ---------- section titles and panel letters ---------- */
const heads=group(root,'section-headings');
label(heads,'section-title-a','231-Par',737,68,40,{anchor:'middle'});
label(heads,'section-title-b','231-D-R',2220,68,40,{anchor:'middle'});
label(heads,'section-title-c','231-P-R',3707,68,40,{anchor:'middle'});
label(heads,'section-title-d','231-Par',595,783.5,40,{anchor:'middle'});
label(heads,'section-title-e','231-D-R',1670.5,783.5,40,{anchor:'middle'});
label(heads,'section-title-f','231-P-R',2747,783.5,40,{anchor:'middle'});
label(heads,'section-title-g','392 commonly regulated genes',3492,779,40,{width:562});
label(heads,'panel-letter-a','A',30,60,57,{});
label(heads,'panel-letter-b','B',1449,60,57,{});
label(heads,'panel-letter-c','C',2960,60,57,{});
label(heads,'panel-letter-d','D',32,781,57,{});
label(heads,'panel-letter-e','E',1108,781,57,{});
label(heads,'panel-letter-f','F',2181,781,57,{});
label(heads,'panel-letter-g','G',3292,765,57,{});
label(heads,'panel-letter-h','H',26,1441.5,57,{});
label(heads,'panel-letter-i','I',1103.5,1441.5,57,{});
label(heads,'panel-letter-j','J',2171.5,1441.5,57,{});
label(heads,'panel-letter-k','K',3295,1431,57,{});
label(heads,'panel-letter-l','L',35,2064.6,57,{});
label(heads,'panel-letter-m','M',1101,2064.6,57,{});
label(heads,'panel-letter-n','N',2171.5,2064.6,57,{});
label(heads,'panel-letter-o','O',3295,2065.5,57,{});
</script>
</body>
</html>
